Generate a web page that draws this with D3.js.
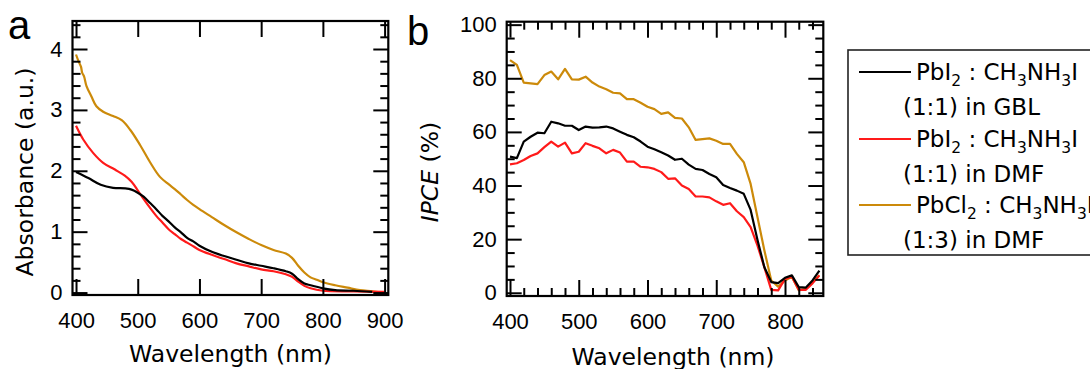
<!DOCTYPE html>
<html>
<head>
<meta charset="utf-8">
<script src="https://cdn.jsdelivr.net/npm/d3@7"></script>
<style>
  html, body { margin: 0; padding: 0; background: #fff; }
  svg { display: block; font-family: "DejaVu Sans", sans-serif; }
  .tick text { font-size: 22px; fill: #000; }
  .tick line { stroke: #000; stroke-width: 2; }
</style>
</head>
<body>
<svg id="fig" width="1090" height="369"></svg>
<script>
// ---- Panel a: absorbance spectra ----
const absBlackWl = [400, 420, 440, 460, 480, 490, 500, 510, 520, 530, 540, 550, 560, 570, 580, 590, 600, 620, 640, 660, 680, 700, 720, 740, 750, 760, 770, 780, 800, 820, 850, 880];
const absBlack   = [1.98, 1.88, 1.77, 1.72, 1.71, 1.69, 1.64, 1.57, 1.47, 1.37, 1.26, 1.17, 1.07, 0.99, 0.90, 0.84, 0.77, 0.67, 0.60, 0.54, 0.48, 0.44, 0.40, 0.35, 0.31, 0.22, 0.15, 0.12, 0.07, 0.04, 0.03, 0.01];

const absRedWl = [400, 412, 428, 444, 463, 479, 490, 500, 510, 520, 530, 540, 550, 560, 570, 580, 590, 600, 620, 640, 660, 680, 700, 720, 740, 750, 760, 770, 780, 800, 850, 900];
const absRed   = [2.74, 2.51, 2.29, 2.13, 2.02, 1.92, 1.82, 1.68, 1.53, 1.39, 1.26, 1.15, 1.04, 0.96, 0.88, 0.82, 0.76, 0.70, 0.62, 0.55, 0.48, 0.43, 0.38, 0.35, 0.30, 0.26, 0.18, 0.11, 0.07, 0.03, 0.02, 0.01];

const absGoldWl = [400, 404, 408, 410, 413, 417, 425, 433, 444, 460, 474, 488, 504, 520, 536, 550, 560, 570, 580, 590, 600, 620, 640, 660, 680, 700, 720, 740, 750, 760, 770, 780, 790, 800, 820, 840, 860, 880, 895];
const absGold   = [3.91, 3.80, 3.71, 3.61, 3.55, 3.39, 3.22, 3.06, 2.97, 2.90, 2.83, 2.67, 2.42, 2.14, 1.90, 1.78, 1.70, 1.61, 1.52, 1.44, 1.37, 1.24, 1.11, 0.99, 0.88, 0.78, 0.70, 0.64, 0.57, 0.44, 0.33, 0.25, 0.21, 0.17, 0.12, 0.08, 0.04, 0.02, 0.00];

const absXTicks = [400, 500, 600, 700, 800, 900];
const absYTicks = [0, 1, 2, 3, 4];

// ---- Panel b: IPCE spectra ----
const ipceWl = [400, 410, 420, 430, 440, 450, 460, 470, 480, 490, 500, 510, 520, 530, 540, 550, 560, 570, 580, 590, 600, 610, 620, 630, 640, 650, 660, 670, 680, 690, 700, 710, 720, 730, 740, 750, 760, 770, 780, 790, 800, 810, 820, 830, 840, 850];
const ipceBlack = [50.8, 50.2, 56.4, 58.2, 59.7, 59.5, 63.8, 63.2, 62.3, 62.3, 60.7, 62.0, 61.6, 61.7, 62.0, 61.3, 60.1, 58.9, 58.0, 56.4, 54.5, 53.5, 52.4, 51.2, 49.6, 50.0, 47.8, 46.2, 45.8, 44.3, 43.1, 40.2, 39.1, 38.1, 36.9, 30.9, 19.7, 9.5, 4.0, 3.6, 5.6, 6.5, 2.1, 1.9, 4.6, 8.3];
const ipceRed   = [47.9, 48.3, 49.5, 51.0, 52.0, 54.3, 56.4, 54.5, 56.0, 52.0, 52.6, 55.8, 54.8, 53.9, 52.0, 53.3, 52.3, 48.9, 48.9, 47.0, 46.8, 46.2, 45.0, 42.5, 42.7, 40.0, 38.7, 35.9, 35.9, 35.6, 34.1, 32.8, 33.4, 30.4, 28.2, 24.5, 17.6, 9.5, 1.1, 0.9, 5.2, 6.0, 1.1, 1.1, 3.5, 6.5];
const ipceGold  = [86.8, 85.0, 78.4, 78.1, 77.8, 81.2, 82.5, 79.6, 83.5, 79.6, 79.5, 80.6, 78.4, 76.9, 75.9, 74.6, 74.4, 72.2, 72.2, 70.9, 69.4, 68.5, 66.7, 67.3, 65.2, 65.0, 61.7, 57.0, 57.3, 57.6, 56.7, 55.5, 55.5, 51.8, 48.7, 40.6, 28.2, 15.8, 4.6, 2.3, 4.6, 6.0, 0.9, 1.5, 4.0, 6.5];

const ipceXTicks = [400, 500, 600, 700, 800];
const ipceYTicks = [0, 20, 40, 60, 80, 100];

// ---- Legend ----
const seriesColors = ["#000000", "#ff1a1a", "#cc8a0a"];
const legendRows = [
  { main: [["PbI", 0], ["2", 1], [" : CH", 0], ["3", 1], ["NH", 0], ["3", 1], ["I", 0]], second: "(1:1) in GBL" },
  { main: [["PbI", 0], ["2", 1], [" : CH", 0], ["3", 1], ["NH", 0], ["3", 1], ["I", 0]], second: "(1:1) in DMF" },
  { main: [["PbCl", 0], ["2", 1], [" : CH", 0], ["3", 1], ["NH", 0], ["3", 1], ["I", 0]], second: "(1:3) in DMF" }
];

const svg = d3.select("#fig");
svg.append("rect").attr("width", 1090).attr("height", 369).attr("fill", "#fff");

function zip(xs, ys) { return xs.map((x, i) => [x, ys[i]]); }

function framedAxes(g, x, y, opt) {
  const [x0, x1] = x.range();
  const [y0, y1] = y.range();
  const minorLen = 8, majorLen = 16;
  // minor ticks, pointing inward on all four sides
  if (opt.xMinor) {
    g.append("g").attr("transform", `translate(0,${y0})`)
      .call(d3.axisBottom(x).tickValues(opt.xMinor).tickSize(-minorLen).tickFormat(""))
      .call(a => a.select(".domain").remove());
    g.append("g").attr("transform", `translate(0,${y1})`)
      .call(d3.axisTop(x).tickValues(opt.xMinor).tickSize(-minorLen).tickFormat(""))
      .call(a => a.select(".domain").remove());
  }
  g.append("g").attr("transform", `translate(${x0},0)`)
    .call(d3.axisLeft(y).tickValues(opt.yMinor).tickSize(-minorLen).tickFormat(""))
    .call(a => a.select(".domain").remove());
  g.append("g").attr("transform", `translate(${x1},0)`)
    .call(d3.axisRight(y).tickValues(opt.yMinor).tickSize(-minorLen).tickFormat(""))
    .call(a => a.select(".domain").remove());
  // major ticks, labelled on the bottom and left
  g.append("g").attr("transform", `translate(0,${y0})`)
    .call(d3.axisBottom(x).tickValues(opt.xMajor).tickSize(-majorLen).tickPadding(17).tickFormat(d3.format("d")))
    .call(a => a.select(".domain").remove())
    .call(a => a.selectAll("text").attr("font-size", 22).attr("font-family", null));
  g.append("g").attr("transform", `translate(0,${y1})`)
    .call(d3.axisTop(x).tickValues(opt.xMajor).tickSize(-majorLen).tickFormat(""))
    .call(a => a.select(".domain").remove());
  g.append("g").attr("transform", `translate(${x0},0)`)
    .call(d3.axisLeft(y).tickValues(opt.yMajor).tickSize(-majorLen + 1).tickPadding(10).tickFormat(d3.format("d")))
    .call(a => a.select(".domain").remove())
    .call(a => a.selectAll("text").attr("font-size", 22).attr("font-family", null));
  g.append("g").attr("transform", `translate(${x1},0)`)
    .call(d3.axisRight(y).tickValues(opt.yMajor).tickSize(-majorLen + 1).tickFormat(""))
    .call(a => a.select(".domain").remove());
  g.selectAll(".tick line").attr("stroke", "#000").attr("stroke-width", 2);
  // frame
  g.append("rect")
    .attr("x", x0).attr("y", y1).attr("width", x1 - x0).attr("height", y0 - y1)
    .attr("fill", "none").attr("stroke", "#000").attr("stroke-width", 2.2);
}

function drawSeries(g, x, y, series, curve, clipId) {
  const [x0, x1] = x.range();
  const [y0, y1] = y.range();
  g.append("clipPath").attr("id", clipId)
    .append("rect").attr("x", x0).attr("y", y1).attr("width", x1 - x0).attr("height", y0 - y1);
  const line = d3.line().x(d => x(d[0])).y(d => y(d[1])).curve(curve);
  const lg = g.append("g").attr("clip-path", `url(#${clipId})`);
  series.forEach(s => {
    lg.append("path").attr("d", line(s.data))
      .attr("fill", "none").attr("stroke", s.color).attr("stroke-width", 2.2)
      .attr("stroke-linejoin", "round");
  });
}

// ---- Panel a ----
const xA = d3.scaleLinear([394.3, 906], [72.5, 388.3]);
const yA = d3.scaleLinear([-0.04, 4.46], [295, 21]);
const gA = svg.append("g");
drawSeries(gA, xA, yA, [
  { data: zip(absGoldWl, absGold), color: seriesColors[2] },
  { data: zip(absRedWl, absRed), color: seriesColors[1] },
  { data: zip(absBlackWl, absBlack), color: seriesColors[0] }
], d3.curveCatmullRom.alpha(0.5), "clipA");
framedAxes(gA, xA, yA, {
  xMajor: absXTicks,
  yMajor: absYTicks,
  yMinor: d3.range(0, 4.45, 0.2).filter(v => Math.abs(v - Math.round(v)) > 1e-6)
});
gA.append("text").attr("x", 230.5).attr("y", 362).attr("text-anchor", "middle")
  .attr("font-size", 23.5).text("Wavelength (nm)");
gA.append("text").attr("transform", "translate(33,172) rotate(-90)").attr("text-anchor", "middle")
  .attr("font-size", 23.5).text("Absorbance (a.u.)");
svg.append("text").attr("x", 8).attr("y", 39).attr("font-size", 40)
  .attr("font-family", "'Liberation Sans', Arial, sans-serif").text("a");

// ---- Panel b ----
const xB = d3.scaleLinear([395.2, 855.7], [506.7, 823.3]);
const yB = d3.scaleLinear([-1.2, 101.1], [296, 21.7]);
const gB = svg.append("g");
drawSeries(gB, xB, yB, [
  { data: zip(ipceWl, ipceGold), color: seriesColors[2] },
  { data: zip(ipceWl, ipceRed), color: seriesColors[1] },
  { data: zip(ipceWl, ipceBlack), color: seriesColors[0] }
], d3.curveLinear, "clipB");
framedAxes(gB, xB, yB, {
  xMajor: ipceXTicks,
  yMajor: ipceYTicks,
  xMinor: d3.range(400, 856, 20).filter(v => v % 100 !== 0),
  yMinor: d3.range(0, 101, 5).filter(v => v % 20 !== 0)
});
gB.append("text").attr("x", 673).attr("y", 365).attr("text-anchor", "middle")
  .attr("font-size", 23.5).text("Wavelength (nm)");
const yt = gB.append("text").attr("transform", "translate(438,172) rotate(-90)")
  .attr("text-anchor", "middle").attr("font-size", 23.5);
yt.append("tspan").attr("font-style", "italic").text("IPCE");
yt.append("tspan").text(" (%)");
svg.append("text").attr("x", 407).attr("y", 45).attr("font-size", 40)
  .attr("font-family", "'Liberation Sans', Arial, sans-serif").text("b");

// ---- Legend ----
const lg = svg.append("g");
lg.append("rect").attr("x", 848).attr("y", 50).attr("width", 260).attr("height", 205)
  .attr("fill", "#fff").attr("stroke", "#222").attr("stroke-width", 1.6);
const rowBase = [80, 147, 213];
legendRows.forEach((r, i) => {
  const base = rowBase[i];
  lg.append("line").attr("x1", 859).attr("x2", 911)
    .attr("y1", base - 8).attr("y2", base - 8)
    .attr("stroke", seriesColors[i]).attr("stroke-width", 2.2);
  const t = lg.append("text").attr("x", 916).attr("y", base).attr("font-size", 23);
  let lowered = false;
  r.main.forEach(([s, sub]) => {
    const ts = t.append("tspan").text(s);
    if (sub) { ts.attr("dy", 6).attr("font-size", 15.5); lowered = true; }
    else if (lowered) { ts.attr("dy", -6); lowered = false; }
  });
  lg.append("text").attr("x", 903).attr("y", base + 35).attr("font-size", 23).text(r.second);
});
</script>
</body>
</html>
